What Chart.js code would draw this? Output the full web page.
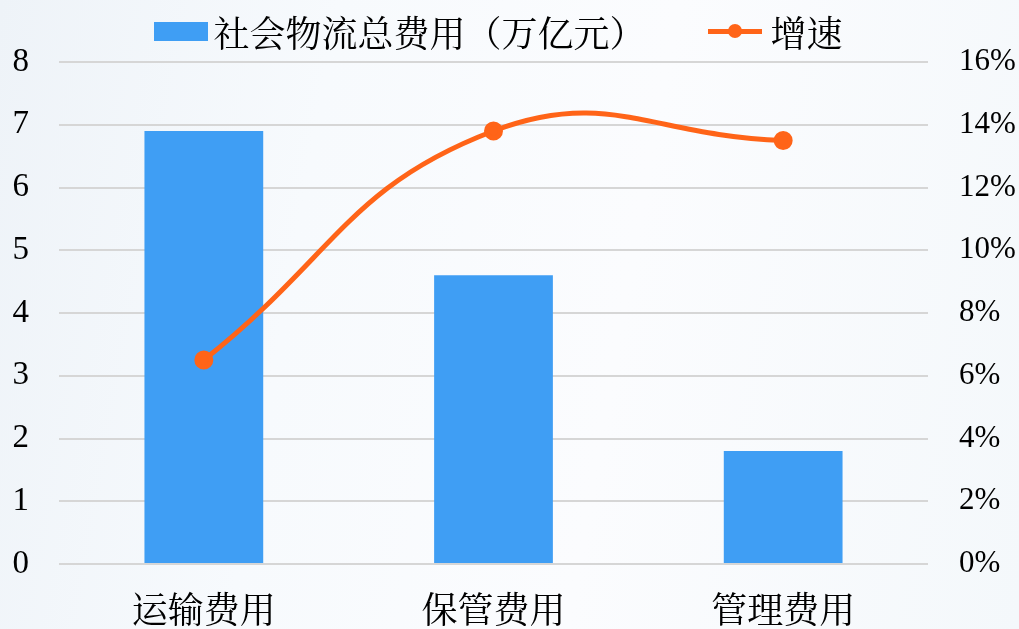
<!DOCTYPE html>
<html>
<head>
<meta charset="utf-8">
<script src="https://cdn.jsdelivr.net/npm/chart.js@4"></script>
<style>
  html, body { margin: 0; padding: 0; }
  body {
    width: 1019px; height: 629px; overflow: hidden; position: relative;
    background: linear-gradient(100deg, #eef3f8 0%, #f7fafd 30%, #fbfcfe 60%, #f4f8fb 100%);
    font-family: "Liberation Serif", "Noto Serif CJK SC", "Noto Sans CJK SC", serif;
  }
  #wrap { position: absolute; left: 0; top: 0; width: 1019px; height: 629px; }
  #legend {
    position: absolute; top: 6px; left: 0; width: 997px;
    display: flex; justify-content: center; align-items: center;
    font-size: 36px; color: #000;
  }
  .item { display: flex; align-items: center; }
  .box { width: 54px; height: 19px; background: #3f9ef4; margin-right: 5px; }
  .ln { position: relative; width: 54px; height: 5px; background: #ff6418; margin-right: 9px; margin-left: 62px; }
  .ln::after {
    content: ""; position: absolute; left: 20px; top: -5px;
    width: 14px; height: 14px; border-radius: 50%; background: #ff6418;
  }
</style>
</head>
<body>
<div id="wrap"><canvas id="c" width="1019" height="629"></canvas></div>
<div id="legend">
  <div class="item"><span class="box"></span><span>社会物流总费用（万亿元）</span></div>
  <div class="item"><span class="ln"></span><span>增速</span></div>
</div>
<script>
'use strict';

// ── Data ─────────────────────────────────────────────────────────────────────
const categories = ['运输费用', '保管费用', '管理费用'];
const costValues = [6.9, 4.6, 1.8];          // 万亿元
const growthRate = [0.065, 0.138, 0.135];    // 增速
const leftTicks  = [0, 1, 2, 3, 4, 5, 6, 7, 8];
const rightTicks = [0, 0.02, 0.04, 0.06, 0.08, 0.10, 0.12, 0.14, 0.16];

const FONT = '"Liberation Serif", "Noto Serif CJK SC", "Noto Sans CJK SC", serif';

const ctx = document.getElementById('c').getContext('2d');
new Chart(ctx, {
  data: {
    labels: categories,
    datasets: [
      {
        type: 'line',
        label: '增速',
        data: growthRate,
        yAxisID: 'y2',
        borderColor: '#ff6418',
        backgroundColor: '#ff6418',
        borderWidth: 5,
        tension: 0.45,
        pointRadius: 7,
        pointHoverRadius: 7,
        order: 0,
      },
      {
        type: 'bar',
        label: '社会物流总费用（万亿元）',
        data: costValues,
        yAxisID: 'y',
        backgroundColor: '#3f9ef4',
        categoryPercentage: 1,
        barPercentage: 0.41,
        order: 1,
      },
    ],
  },
  options: {
    responsive: false,
    animation: false,
    layout: { padding: { top: 62, bottom: 0 } },
    plugins: { legend: { display: false }, tooltip: { enabled: false } },
    scales: {
      x: {
        grid: { display: false },
        border: { display: false },
        afterFit: a => { a.height = 65; },
        ticks: { color: '#000', font: { family: FONT, size: 36 }, padding: 20 },
      },
      y: {
        position: 'left',
        min: 0, max: 8,
        afterBuildTicks: a => { a.ticks = leftTicks.map(v => ({ value: v })); },
        afterFit: a => { a.width = 59; },
        grid: { color: '#d6d6d6', lineWidth: 2, drawTicks: false },
        border: { display: false },
        ticks: { color: '#000', font: { family: FONT, size: 33 }, padding: 30 },
      },
      y2: {
        position: 'right',
        min: 0, max: 0.16,
        afterBuildTicks: a => { a.ticks = rightTicks.map(v => ({ value: v })); },
        afterFit: a => { a.width = 91; },
        grid: { display: false, drawTicks: false },
        border: { display: false },
        ticks: {
          color: '#000', font: { family: FONT, size: 31 }, padding: 31,
          callback: v => Math.round(v * 100) + '%',
        },
      },
    },
  },
});
</script>
</body>
</html>
